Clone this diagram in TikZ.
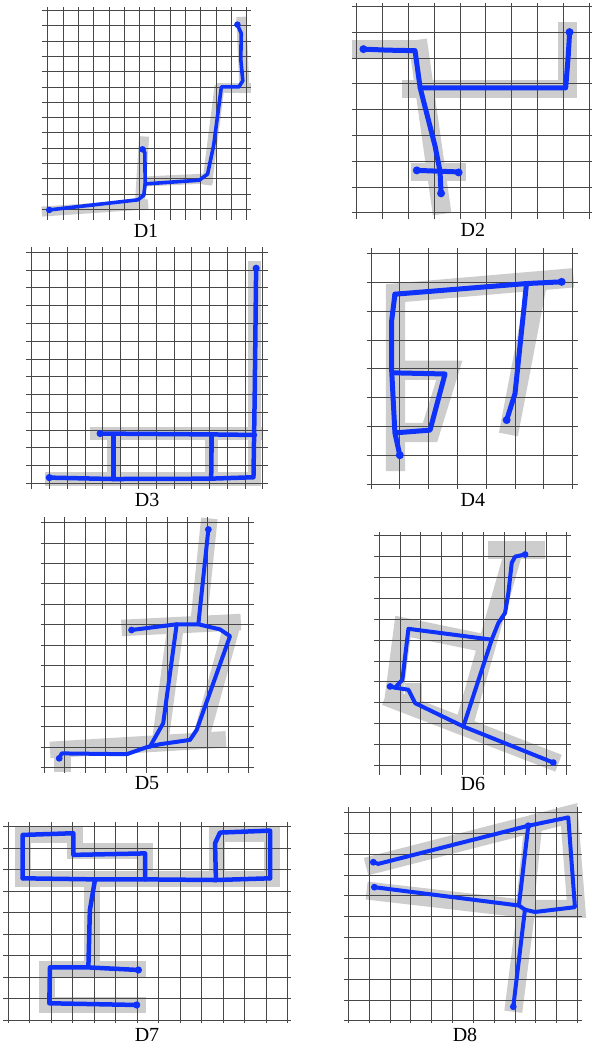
\documentclass[tikz,border=0pt]{standalone}
\usepackage{fontspec}
\setmainfont{Liberation Serif}
\definecolor{pblue}{RGB}{15,50,250}
\definecolor{bandgray}{RGB}{205,205,205}
\tikzset{
  gridl/.style={draw=black!72, line width=0.7pt},
  band/.style={draw=bandgray, line width=#1, line cap=butt, line join=miter},
  sk/.style={draw=pblue, line width=#1, line cap=round, line join=round},
  lbl/.style={font=\fontsize{20}{24}\selectfont, inner sep=0pt, anchor=center}
}
\newcommand\panelgrid[6]{%
  \foreach \i in {0,...,#1}{\draw[gridl] (\i,{-(#6)}) -- (\i,{#2+#5});}%
  \foreach \j in {0,...,#2}{\draw[gridl] ({-(#3)},\j) -- ({#1+#4},\j);}%
}
\begin{document}
\begin{tikzpicture}[x=1pt,y=-1pt]
\useasboundingbox (0,0) rectangle (591,1048);
\fill[white] (0,0) rectangle (591,1048);

% ---------------- D1 ----------------
\begin{scope}[shift={(47.7,209.3)}, x=15.3pt, y=15.3pt]
  \draw[band=10pt] (-0.39,-0.15) -- (6.57,0.33);
  \draw[band=10pt] (6.3,4.76) -- (6.0,-0.04);
  \draw[band=10pt] (6.2,1.81) -- (10.8,2.03);
  \draw[band=10pt] (10.41,1.59) -- (11.24,8.1);
  \draw[band=10pt] (11.0,7.92) -- (13.3,7.92);
  \draw[band=10pt] (12.65,12.58) -- (12.87,7.6);
  \panelgrid{13}{13}{0.4}{0.26}{0.2}{0.7}
  \draw[sk=3.6pt] (0.1,-0.04) -- (5.9,0.62) -- (6.28,0.92) -- (6.37,1.66) -- (9.9,1.9) -- (10.45,2.3) -- (10.85,4.2) -- (11.35,8.0) -- (12.5,8.0) -- (12.75,8.4) -- (12.62,9.8) -- (12.65,11.5) -- (12.4,12.05);
  \draw[sk=3.6pt] (6.37,1.66) -- (6.35,3.7) -- (6.2,3.95);
  \foreach \p in {(0.1,-0.04),(6.2,3.92),(12.4,12.07)} \fill[pblue] \p circle[radius=3.3pt];
\end{scope}
\node[lbl] (l1) at (146,230.7) {D1};

% ---------------- D2 ----------------
\begin{scope}[shift={(356.7,212.7)}, x=25.8pt, y=25.8pt]
  \draw[band=18.7pt] (-0.17,6.34) -- (2.65,6.34);
  \draw[band=18.7pt] (2.36,6.7) -- (3.31,-0.05);
  \draw[band=18.7pt] (1.75,4.79) -- (8.18,4.79) -- (8.18,7.4);
  \draw[band=18.7pt] (2.11,1.58) -- (4.23,1.58);
  \panelgrid{9}{8}{0.17}{0.3}{0.13}{0.26}
  \draw[sk=5pt] (0.26,6.34) -- (1.2,6.3) -- (2.26,6.28) -- (2.46,4.84) -- (3.04,2.57) -- (3.23,1.6) -- (3.27,0.75);
  \draw[sk=5pt] (2.46,4.84) -- (8.1,4.84) -- (8.2,6.1) -- (8.25,6.95);
  \draw[sk=5pt] (2.33,1.64) -- (3.95,1.58);
  \foreach \p in {(0.26,6.34),(8.25,7.0),(3.27,0.75),(2.33,1.64),(3.95,1.56)} \fill[pblue] \p circle[radius=4pt];
\end{scope}
\node[lbl] (l2) at (472.8,230.3) {D2};

% ---------------- D3 ----------------
\begin{scope}[shift={(31.7,483.3)}, x=17.77pt, y=17.77pt]
  \draw[band=13.3pt] (0.75,0.24) -- (12.55,0.24) -- (12.55,12.52);
  \draw[band=13.3pt] (3.28,2.8) -- (12.95,2.8);
  \draw[band=13.3pt] (4.6,0.24) -- (4.6,2.8);
  \draw[band=13.3pt] (10.1,0.24) -- (10.1,2.8);
  \panelgrid{13}{13}{0.3}{0.3}{0.28}{0.32}
  \draw[sk=4.5pt] (0.99,0.32) -- (4.6,0.24) -- (10.04,0.26) -- (12.48,0.34) -- (12.55,5) -- (12.63,12.1);
  \draw[sk=4.5pt] (3.85,2.8) -- (10.2,2.75) -- (12.56,2.72);
  \draw[sk=4.5pt] (4.6,2.76) -- (4.6,0.24);
  \draw[sk=4.5pt] (10.13,2.75) -- (10.1,0.25);
  \foreach \p in {(0.99,0.32),(3.85,2.8),(12.63,12.1)} \fill[pblue] \p circle[radius=3.6pt];
\end{scope}
\node[lbl] (l3) at (147.2,499.5) {D3};

% ---------------- D4 ----------------
\begin{scope}[shift={(371,484)}, x=28.8pt, y=28.8pt]
  \draw[band=19.3pt] (7.03,7.16) -- (0.85,6.63) -- (0.85,0.45);
  \draw[band=19.3pt] (0.85,3.95) -- (2.72,3.95) -- (2.05,1.79) -- (0.85,1.79);
  \draw[band=19.3pt] (5.78,7.0) -- (4.77,1.72);
  \panelgrid{7}{8}{0.15}{0.19}{0.18}{0.17}
  \draw[sk=5pt] (0.83,6.59) -- (5.4,6.96) -- (6.62,7.02);
  \draw[sk=5pt] (0.83,6.59) -- (0.72,5.69) -- (0.72,3.9) -- (0.83,1.78) -- (1.0,1.0);
  \draw[sk=5pt] (0.78,3.86) -- (2.57,3.82) -- (2.05,1.87) -- (0.89,1.78);
  \draw[sk=5pt] (5.4,6.96) -- (5.0,3.14) -- (4.71,2.22);
  \foreach \p in {(6.62,7.02),(1.0,1.0),(4.71,2.22)} \fill[pblue] \p circle[radius=4pt];
\end{scope}
\node[lbl] (l4) at (472.8,499.5) {D4};

% ---------------- D5 ----------------
\begin{scope}[shift={(44.3,767.7)}, x=20.43pt, y=20.43pt]
  \draw[band=16.5pt] (8.08,12.2) -- (7.54,7.0);
  \draw[band=16.5pt] (3.78,6.84) -- (9.62,7.13);
  \draw[band=16.5pt] (9.17,6.9) -- (7.62,1.3);
  \draw[band=16.5pt] (6.44,7.02) -- (5.66,1.2);
  \draw[band=16.5pt] (0.28,0.87) -- (8.89,1.39);
  \draw[band=16.5pt] (0.88,0.9) -- (0.88,-0.2);
  \panelgrid{10}{12}{0.18}{0.26}{0.26}{0.26}
  \draw[sk=4pt] (0.73,0.46) -- (0.85,0.7) -- (4.03,0.66) -- (5.0,1.0) -- (5.66,1.15) -- (7.13,1.36) -- (7.46,1.85) -- (9.09,6.44) -- (8.6,6.77) -- (7.54,7.02) -- (6.48,7.02) -- (4.27,6.74);
  \draw[sk=4pt] (5.17,1.03) -- (5.82,2.18) -- (6.48,7.02);
  \draw[sk=4pt] (7.54,7.02) -- (8.03,11.66);
  \foreach \p in {(0.73,0.46),(4.27,6.74),(8.03,11.66)} \fill[pblue] \p circle[radius=3.4pt];
\end{scope}
\node[lbl] (l5) at (147,783.5) {D5};

% ---------------- D6 ----------------
\begin{scope}[shift={(379,765.3)}, x=20.87pt, y=20.87pt]
  \draw[band=18pt] (5.24,10.3) -- (7.96,10.3);
  \draw[band=18pt] (6.44,10.2) -- (4.12,2.1);
  \draw[band=18pt] (5.3,5.8) -- (1.15,6.65) -- (0.7,3.2);
  \draw[band=18pt] (0.3,3.3) -- (8.6,0.1);
  \fill[bandgray] (1.25,2.98) rectangle (2.04,3.94);
  \panelgrid{9}{11}{0.24}{0.2}{0.2}{0.46}
  \draw[sk=4pt] (7.0,10.1) -- (6.52,10.0) -- (6.36,9.7) -- (6.2,8.26) -- (6.04,7.3) -- (5.72,6.82) -- (5.4,6.02) -- (4.04,1.86);
  \draw[sk=4pt] (5.4,6.02) -- (1.41,6.54) -- (1.12,4.1) -- (0.77,3.72) -- (0.53,3.78);
  \draw[sk=4pt] (0.77,3.72) -- (1.41,3.62) -- (1.57,3.3) -- (1.73,2.98) -- (4.04,1.86) -- (8.35,0.13);
  \foreach \p in {(7.0,10.1),(0.53,3.78),(8.35,0.13)} \fill[pblue] \p circle[radius=3.4pt];
\end{scope}
\node[lbl] (l6) at (472.8,783.5) {D6};

% ---------------- D7 ----------------
\begin{scope}[shift={(8.3,1020)}, x=21.47pt, y=21.47pt]
  \draw[band=16pt] (0.69,6.55) -- (0.69,8.63) -- (3.12,8.63) -- (3.12,7.86) -- (6.35,7.86) -- (6.35,6.55);
  \draw[band=16pt] (0.31,6.55) -- (12.66,6.55);
  \draw[band=16pt] (9.74,6.55) -- (9.74,8.66) -- (12.28,8.66) -- (12.28,6.55);
  \draw[band=16pt] (3.88,6.55) -- (3.88,2.4);
  \draw[band=16pt] (6.41,2.38) -- (1.82,2.38) -- (1.82,0.71) -- (6.41,0.71);
  \panelgrid{13}{9}{0.23}{0.16}{0.23}{0.16}
  \draw[sk=4.5pt] (0.67,6.6) -- (0.67,8.62) -- (3.03,8.7) -- (3.03,7.69) -- (6.37,7.76) -- (6.37,6.55);
  \draw[sk=4.5pt] (0.67,6.6) -- (4.04,6.55) -- (6.37,6.55) -- (9.67,6.52) -- (12.19,6.6);
  \draw[sk=4.5pt] (9.67,6.52) -- (9.63,8.23) -- (9.86,8.73) -- (12.19,8.82) -- (12.19,6.6);
  \draw[sk=4.5pt] (4.04,6.55) -- (3.8,5.12) -- (3.73,2.48);
  \draw[sk=4.5pt] (6.06,2.33) -- (3.73,2.45) -- (1.94,2.45) -- (1.91,0.78) -- (5.98,0.7);
  \foreach \p in {(6.06,2.33),(5.98,0.7)} \fill[pblue] \p circle[radius=3.6pt];
\end{scope}
\node[lbl] (l7) at (147,1034.5) {D7};

% ---------------- D8 ----------------
\begin{scope}[shift={(348.3,1020.7)}, x=20.83pt, y=20.83pt]
  \draw[band=18pt] (0.85,7.4) -- (10.6,9.9) -- (10.95,5.37) -- (8.6,5.37);
  \draw[band=18pt] (0.88,6.25) -- (8.48,5.37);
  \draw[band=18pt] (8.88,9.44) -- (8.48,5.5);
  \draw[band=18pt] (8.56,5.5) -- (7.92,0.43);
  \panelgrid{11}{10}{0.2}{0.23}{0.24}{0.11}
  \draw[sk=4pt] (1.2,7.61) -- (1.44,7.53) -- (8.64,9.36) -- (10.56,9.76) -- (10.88,5.45) -- (8.96,5.22) -- (8.48,5.33);
  \draw[sk=4pt] (1.25,6.41) -- (8.19,5.53) -- (8.48,5.33);
  \draw[sk=4pt] (8.64,9.36) -- (8.19,5.53);
  \draw[sk=4pt] (8.48,5.33) -- (7.92,0.67);
  \foreach \p in {(1.2,7.61),(1.25,6.41),(7.92,0.67),(8.64,9.36)} \fill[pblue] \p circle[radius=3.4pt];
\end{scope}
\node[lbl] (l8) at (465,1034.5) {D8};
\end{tikzpicture}
\end{document}
